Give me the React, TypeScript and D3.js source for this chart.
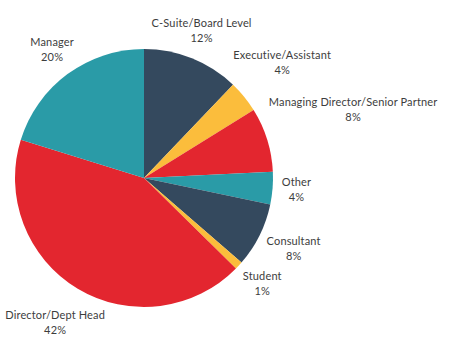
import React from "react";
import * as d3 from "d3";

// job level breakdown, clockwise from 12 o'clock
const categories = [
  "C-Suite/Board Level",
  "Executive/Assistant",
  "Managing Director/Senior Partner",
  "Other",
  "Consultant",
  "Student",
  "Director/Dept Head",
  "Manager",
];
const values = [12, 4, 8, 4, 8, 1, 42, 20];
const colors = ["#34495e", "#fbbd3c", "#e3262f", "#2a9ba7", "#34495e", "#fbbd3c", "#e3262f", "#2a9ba7"];

// how far out each label sits from the centre (layout only)
const labelDist = [155, 178, 219, 153, 167, 161, 173, 155];

const W = 450;
const H = 360;
const cx = 144;
const cy = 178;
const R = 129;

const App = () => {
  const pie = d3.pie<number>().sort(null).value((d) => d);
  const arcs = pie(values);
  const arc = d3.arc<d3.PieArcDatum<number>>().innerRadius(0).outerRadius(R);

  return (
    <svg width={W} height={H} style={{ position: "absolute", left: 0, top: 0, background: "#fff" }}>
      <g transform={`translate(${cx},${cy})`}>
        {arcs.map((a, i) => (
          <path key={i} d={arc(a) || ""} fill={colors[i]} />
        ))}
        {arcs.map((a, i) => {
          const mid = (a.startAngle + a.endAngle) / 2;
          const x = Math.sin(mid) * labelDist[i];
          const y = -Math.cos(mid) * labelDist[i] + (i === 3 ? 3 : 0);
          return (
            <g
              key={"l" + i}
              transform={`translate(${x},${y})`}
              fontFamily="Lato, 'Open Sans', sans-serif"
              fontSize={11}
              letterSpacing={0.15}
              fill="#3d3d3d"
              textAnchor="middle"
            >
              <text y={-7}>{categories[i]}</text>
              <text y={8}>{values[i]}%</text>
            </g>
          );
        })}
      </g>
    </svg>
  );
};

export default App;
